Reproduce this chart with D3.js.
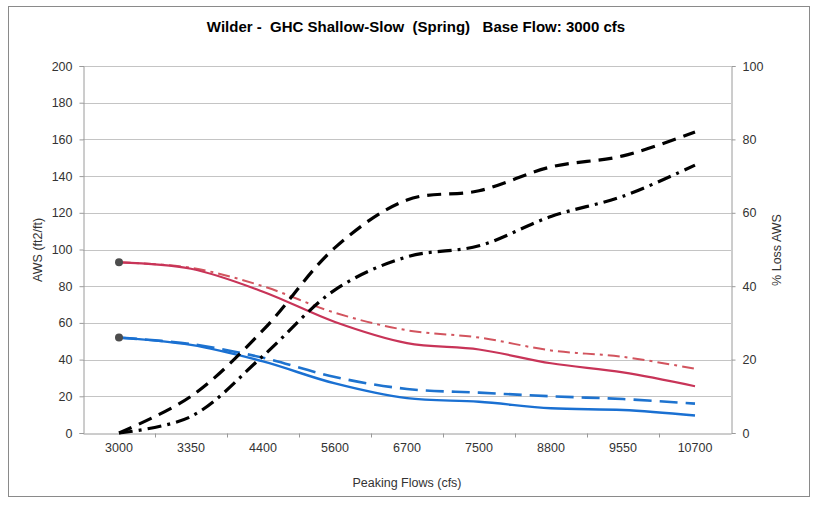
<!DOCTYPE html>
<html><head><meta charset="utf-8">
<script src="https://cdn.jsdelivr.net/npm/d3@7"></script>
<style>
html,body{margin:0;padding:0;background:#fff;}
svg text{font-family:"Liberation Sans",Arial,sans-serif;}
</style></head>
<body>
<svg id="chart" width="818" height="505"></svg>
<script>
const categories = ["3000","3350","4400","5600","6700","7500","8800","9550","10700"];
const awsRedSolid   = [93, 89.5, 77, 60.5, 49, 45.5, 38, 33, 25.5];
const awsRedDashDot = [93, 90, 80, 65.5, 56, 52, 45, 41.5, 35];
const awsBlueSolid  = [52, 48, 39, 27, 19, 17, 13.5, 12.5, 9.5];
const awsBlueDash   = [52, 48.5, 41, 30.5, 24, 22, 20, 18.5, 16];
const lossDash      = [0, 10, 28, 50.5, 63.5, 66, 72.5, 75.5, 82];
const lossDashDot   = [0, 4.5, 21, 39, 48, 51, 59, 64.5, 73];
const leftTicks  = [0,20,40,60,80,100,120,140,160,180,200];
const rightTicks = [0,20,40,60,80,100];

const svg = d3.select("#chart");
const m = {left:83, right:731, top:66, bottom:433};

// outer frame
svg.append("rect").attr("x",8.5).attr("y",6.5).attr("width",801).attr("height",490)
  .attr("fill","#fff").attr("stroke","#8a8a8a").attr("stroke-width",1);

const x = d3.scaleBand().domain(categories).range([m.left,m.right]);
const yL = d3.scaleLinear().domain([0,200]).range([m.bottom,m.top]);
const yR = d3.scaleLinear().domain([0,100]).range([m.bottom,m.top]);
const cx = c => x(c) + x.bandwidth()/2;

// gridlines
svg.append("g").selectAll("line").data(leftTicks.filter(t=>t>0)).join("line")
  .attr("x1",m.left).attr("x2",m.right)
  .attr("y1",d=>Math.round(yL(d))+0.5).attr("y2",d=>Math.round(yL(d))+0.5)
  .attr("stroke","#c4c4c4").attr("stroke-width",1);

// axes
const axL = d3.axisLeft(yL).tickValues(leftTicks).tickSize(4).tickPadding(7);
const axR = d3.axisRight(yR).tickValues(rightTicks).tickSize(4).tickPadding(7);
const axB = d3.axisBottom(x).tickSize(0).tickPadding(10);

function style(g){
  g.select(".domain").attr("stroke","#9a9a9a");
  g.selectAll(".tick line").attr("stroke","#9a9a9a");
  g.selectAll(".tick text").attr("fill","#333").attr("font-size","12.5px")
    .attr("font-family","'Liberation Sans',Arial,sans-serif");
}
svg.append("g").attr("transform",`translate(${m.left+0.5},0)`).call(axL).call(style);
svg.append("g").attr("transform",`translate(${m.right+0.5},0)`).call(axR).call(style);
const gb = svg.append("g").attr("transform",`translate(0,${m.bottom+0.5})`).call(axB).call(style);
// category boundary ticks
gb.selectAll(".bt").data(categories.slice(1)).join("line")
  .attr("x1",d=>Math.round(x(d))+0.5).attr("x2",d=>Math.round(x(d))+0.5)
  .attr("y1",0).attr("y2",4).attr("stroke","#9a9a9a");

// lines
const mk = (arr, scale) => d3.line().x((d,i)=>cx(categories[i])).y(d=>scale(d))
  .curve(d3.curveCatmullRom.alpha(0.5))(arr);

function draw(arr, scale, color, w, dash){
  svg.append("path").attr("d",mk(arr,scale)).attr("fill","none")
    .attr("stroke",color).attr("stroke-width",w)
    .attr("stroke-dasharray",dash||null).attr("stroke-linecap","butt");
}
draw(awsRedDashDot, yL, "#d2545e", 2, "12,5,3,5");
draw(awsBlueDash, yL, "#1e73cf", 2.6, "18,8");
draw(awsRedSolid, yL, "#c83458", 2.2);
draw(awsBlueSolid, yL, "#1a70d2", 2.4);
draw(lossDash, yR, "#000", 3.2, "14,8");
draw(lossDashDot, yR, "#000", 3.2, "14,6,3,6");

// start markers
svg.append("g").selectAll("circle").data([awsRedSolid[0], awsBlueSolid[0]]).join("circle")
  .attr("cx",cx(categories[0])).attr("cy",d=>yL(d)).attr("r",4).attr("fill","#4d4d4d");

// titles
svg.append("text").attr("x",416).attr("y",32).attr("text-anchor","middle")
  .attr("font-size","15px").attr("font-weight","bold").attr("fill","#000")
  .attr("xml:space","preserve")
  .text("Wilder -  GHC Shallow-Slow  (Spring)   Base Flow: 3000 cfs");
svg.append("text").attr("x",407).attr("y",487).attr("text-anchor","middle")
  .attr("font-size","12.5px").attr("fill","#333").text("Peaking Flows (cfs)");
svg.append("text").attr("transform","translate(42,250) rotate(-90)").attr("text-anchor","middle")
  .attr("font-size","12.5px").attr("fill","#333").text("AWS (ft2/ft)");
svg.append("text").attr("transform","translate(781,250) rotate(-90)").attr("text-anchor","middle")
  .attr("font-size","12.5px").attr("fill","#333").text("% Loss AWS");
</script>
</body></html>
